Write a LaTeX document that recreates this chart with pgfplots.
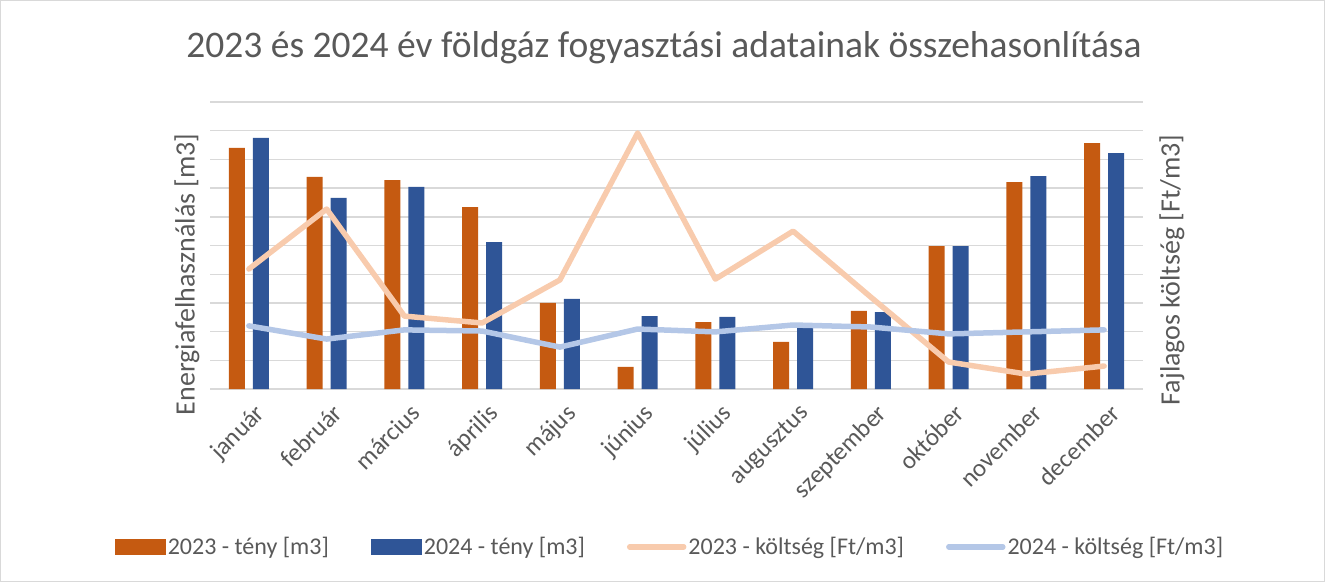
\documentclass[border=0pt]{standalone}
\usepackage{pgfplots}
\pgfplotsset{compat=1.18}
\usepackage{fontspec}
\setmainfont{Carlito}
\definecolor{c23}{HTML}{C55A11}
\definecolor{c24}{HTML}{2F5597}
\definecolor{l23}{HTML}{F8CBAD}
\definecolor{l24}{HTML}{B4C7E7}
\definecolor{txt}{HTML}{595959}
\definecolor{gridc}{HTML}{D9D9D9}
\begin{document}
\begin{tikzpicture}
\draw[gridc, line width=1pt] (0.5pt,0.5pt) rectangle (1324.5pt,581.5pt);
\node[text=txt, font=\fontsize{37.5}{44}\selectfont] at (664pt,534pt) {2023 és 2024 év földgáz fogyasztási adatainak összehasonlítása};
\begin{axis}[at={(210pt,193pt)}, anchor=south west, scale only axis,
  width=933pt, height=287pt,
  xmin=-0.5, xmax=11.5, ymin=0, ymax=10,
  clip=false,
  axis line style={draw=none},
  tick style={draw=none},
  ytick={0,1,...,10}, yticklabels={},
  ymajorgrids, major grid style={gridc, line width=1.4pt},
  xtick={0,...,11},
  xticklabels={január,február,március,április,május,június,július,augusztus,szeptember,október,november,december},
  xticklabel style={rotate=45, anchor=north east, text=txt, font=\fontsize{25}{28}\selectfont, inner sep=2pt, yshift=-11pt, xshift=-4pt},
  ylabel={Energiafelhasználás [m3]},
  ylabel style={at={(rel axis cs:-0.0247,0.40)}, anchor=center, text=txt, font=\fontsize{28}{32}\selectfont},
  legend columns=4,
  legend style={at={(rel axis cs:0.493,-0.55)}, anchor=center, draw=none, fill=none,
    text=txt, font=\fontsize{24}{28}\selectfont,
    /tikz/every even column/.append style={column sep=40pt},
    /tikz/every odd column/.append style={column sep=0pt},
    nodes={inner sep=2pt}},
]
\addplot[ybar, bar width=0.206, bar shift=-0.154, fill=c23, draw=none,
  legend image code/.code={\fill[c23] (0pt,-8pt) rectangle (51pt,8pt);}]
  coordinates {(0,8.40) (1,7.39) (2,7.28) (3,6.34) (4,3.00) (5,0.77) (6,2.33) (7,1.64) (8,2.72) (9,4.98) (10,7.21) (11,8.57)};
\addlegendentry{2023 - tény [m3]}
\addplot[ybar, bar width=0.206, bar shift=0.154, fill=c24, draw=none,
  legend image code/.code={\fill[c24] (0pt,-8pt) rectangle (51pt,8pt);}]
  coordinates {(0,8.75) (1,6.66) (2,7.04) (3,5.12) (4,3.14) (5,2.54) (6,2.51) (7,2.26) (8,2.68) (9,4.98) (10,7.42) (11,8.22)};
\addlegendentry{2024 - tény [m3]}
\addplot[l23, line width=5.5pt, line join=round, line cap=round,
  legend image code/.code={\draw[l23, line width=5.5pt, line cap=round] (2pt,0pt) -- (56pt,0pt);}]
  coordinates {(0,4.18) (1,6.27) (2,2.54) (3,2.30) (4,3.80) (5,8.92) (6,3.83) (7,5.50) (8,3.20) (9,0.94) (10,0.52) (11,0.80)};
\addlegendentry{2023 - költség [Ft/m3]}
\addplot[l24, line width=5.5pt, line join=round, line cap=round,
  legend image code/.code={\draw[l24, line width=5.5pt, line cap=round] (2pt,0pt) -- (56pt,0pt);}]
  coordinates {(0,2.20) (1,1.74) (2,2.06) (3,2.02) (4,1.46) (5,2.09) (6,1.99) (7,2.23) (8,2.16) (9,1.92) (10,1.99) (11,2.06)};
\addlegendentry{2024 - költség [Ft/m3]}
\node[rotate=90, anchor=center, text=txt, font=\fontsize{28}{32}\selectfont] at (rel axis cs:1.031,0.415) {Fajlagos költség [Ft/m3]};
\end{axis}
\end{tikzpicture}
\end{document}
